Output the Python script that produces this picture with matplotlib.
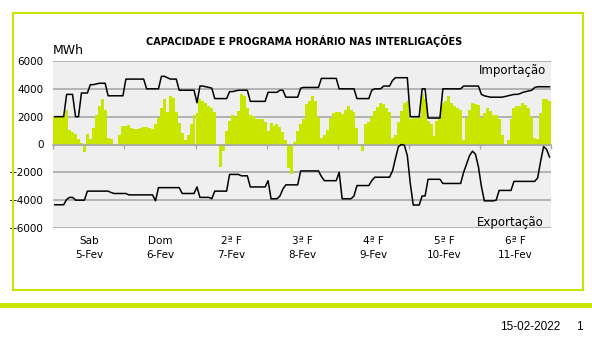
import matplotlib
matplotlib.use("Agg")
import matplotlib.pyplot as plt
import matplotlib.transforms as mtransforms
from matplotlib.patches import Rectangle
from matplotlib.lines import Line2D
import numpy as np

# hourly data, 7 days x 24 h (MWh)

programa = [
    # Sab 5-Fev
    2000, 2000, 2000, 2000, 2450, 1050, 900, 750, 400, 100, -550, 750,
    400, 1150, 2150, 2800, 3300, 2500, 450, 400, 0, -120, 700, 1350,
    # Dom 6-Fev
    1350, 1400, 1150, 1100, 1100, 1200, 1250, 1250, 1150, 1100, 1500, 1900,
    2650, 3250, 2300, 3500, 3350, 2300, 1550, 850, 350, 650, 1450, 2150,
    # 2a F 7-Fev
    2250, 3300, 3100, 2950, 2800, 2600, 2300, -100, -1600, -500, 1000, 1700,
    2100, 2000, 2400, 3600, 3450, 2600, 2100, 2050, 1850, 1800, 1850, 1600,
    # 3a F 8-Fev
    1000, 1550, 1300, 1450, 1250, 900, 300, -1700, -2100, 200, 950, 1450,
    1800, 2900, 3100, 3500, 3100, 2000, 500, 700, 1050, 1900, 2250, 2300,
    # 4a F 9-Fev
    2300, 2200, 2500, 2800, 2500, 2300, 1200, 50, -480, 1500, 1600, 2000,
    2400, 2700, 3000, 2900, 2600, 2300, 500, 650, 1600, 2400, 3000, 3100,
    # 5a F 10-Fev
    1800, 1900, 1900, 1900, 3600, 3300, 1700, 1450, 600, 1700, 1900, 3000,
    3100, 3450, 3000, 2750, 2600, 2500, 300, 1900, 2500, 3000, 2900, 2850,
    # 6a F 11-Fev
    1900, 2250, 2600, 2400, 2150, 2100, 1800, 700, 50, 300, 1800, 2600,
    2750, 2800, 3000, 2850, 2600, 2000, 500, 400, 2250, 3300, 3300, 3100,
]

importacao = [
    2000, 2000, 2000, 2000, 3600, 3600, 3600, 2000, 2000, 3700, 3700, 3700,
    4300, 4300, 4350, 4400, 4400, 4400, 3500, 3500, 3500, 3500, 3500, 3500,
    4700, 4700, 4700, 4700, 4700, 4700, 4700, 4000, 4000, 4000, 4000, 4000,
    4900, 4900, 4800, 4700, 4700, 4700, 3900, 3900, 3900, 3900, 3900, 3900,
    3000, 4200, 4200, 4150, 4100, 4050, 3300, 3300, 3300, 3300, 3300, 3800,
    3800, 3850, 3900, 3900, 3900, 3900, 3100, 3100, 3100, 3100, 3100, 3100,
    3750, 3750, 3750, 3750, 3900, 3900, 3400, 3400, 3400, 3400, 3400, 4050,
    4100, 4100, 4100, 4100, 4100, 4100, 4750, 4750, 4750, 4750, 4750, 4750,
    4000, 4000, 4000, 4000, 4000, 4000, 3300, 3300, 3300, 3300, 3300, 3900,
    4000, 4000, 4000, 4200, 4200, 4200, 4600, 4800, 4800, 4800, 4800, 4800,
    2000, 2000, 2000, 2000, 4000, 4000, 1900, 1900, 1900, 1900, 1900, 4000,
    4000, 4000, 4000, 4000, 4000, 4000, 4200, 4200, 4200, 4200, 4200, 4200,
    3600, 3500, 3450, 3400, 3400, 3400, 3400, 3400, 3450, 3500, 3550, 3600,
    3600, 3650, 3750, 3800, 3850, 3900, 4100, 4150, 4150, 4150, 4150, 4150,
]

exportacao = [
    -4330, -4330, -4330, -4330, -3950, -3800, -3800, -4000, -4000, -4000, -4000, -3350,
    -3350, -3350, -3350, -3350, -3350, -3350, -3350, -3450, -3520, -3520, -3520, -3520,
    -3520, -3620, -3620, -3620, -3620, -3620, -3620, -3620, -3620, -3620, -4050, -3100,
    -3100, -3100, -3100, -3100, -3100, -3100, -3100, -3520, -3520, -3520, -3520, -3520,
    -3050, -3800, -3800, -3800, -3800, -3900, -3350, -3350, -3350, -3350, -3350, -2150,
    -2150, -2150, -2150, -2250, -2250, -2250, -3050, -3050, -3050, -3050, -3050, -3050,
    -2600, -3900, -3900, -3900, -3700, -3200, -2900, -2900, -2900, -2900, -2900, -1900,
    -1900, -1900, -1900, -1900, -1900, -1900, -2300, -2600, -2600, -2600, -2600, -2600,
    -2000, -3900, -3900, -3900, -3900, -3700, -2950, -2950, -2950, -2950, -2950, -2600,
    -2350, -2350, -2350, -2350, -2350, -2350, -1900, -1000, -150, 0, -50, -800,
    -2800, -4350, -4350, -4350, -3700, -3700, -2500, -2500, -2500, -2500, -2500, -2800,
    -2800, -2800, -2800, -2800, -2800, -2800, -2000, -1400, -800, -480, -700, -1600,
    -3000, -4050, -4050, -4050, -4050, -4000, -3300, -3300, -3300, -3300, -3300, -2650,
    -2650, -2650, -2650, -2650, -2650, -2650, -2650, -2400, -1200, -150, -350, -900,
]

dias = ["Sab", "Dom", "2ª F", "3ª F", "4ª F", "5ª F", "6ª F"]
datas = ["5-Fev", "6-Fev", "7-Fev", "8-Fev", "9-Fev", "10-Fev", "11-Fev"]

verde = "#c8e600"
W, H = 592, 355

fig = plt.figure(figsize=(W / 100, H / 100), dpi=100)
ax = fig.add_axes([53.3 / W, 1 - 228 / H, (551 - 53.3) / W, (228 - 61) / H])

x = np.arange(len(programa)) + 0.5
ax.bar(x, programa, width=1.0, color=verde, linewidth=0, zorder=2)
ax.plot(x, importacao, color="black", lw=1.1, zorder=3)
ax.plot(x, exportacao, color="black", lw=1.1, zorder=3)

ax.set_facecolor("#efefef")
ax.set_xlim(0, 168)
ax.set_ylim(-6000, 6000)
ax.set_yticks(range(-6000, 6001, 2000))
ax.yaxis.grid(True, color="#a9a9a9", lw=1.2, zorder=1)
ax.set_axisbelow(True)
for s in ("left", "right", "top"):
    ax.spines[s].set_visible(False)
ax.spines["bottom"].set_position(("data", 0))
ax.spines["bottom"].set_color("#a9a9a9")
ax.spines["bottom"].set_linewidth(1.2)
ax.set_xticks(range(0, 169, 24))
ax.set_xticklabels([])
ax.tick_params(axis="x", length=3, color="#a9a9a9", width=1)
ax.tick_params(axis="y", length=0, labelsize=7.5, pad=7)

trans = mtransforms.blended_transform_factory(ax.transData, ax.transAxes)
for i, (d, dt) in enumerate(zip(dias, datas)):
    ax.text(24 * i + 12, -0.05, d + "\n" + dt, transform=trans, ha="center",
            va="top", fontsize=7.5, linespacing=1.4)

ax.text(0.99, 0.946, "Importação", transform=ax.transAxes, ha="right",
        va="center", fontsize=8.5)
ax.text(0.985, 0.03, "Exportação", transform=ax.transAxes, ha="right",
        va="center", fontsize=8.5)

fig.text(304 / W, 1 - 41 / H, "CAPACIDADE E PROGRAMA HORÁRIO NAS INTERLIGAÇÕES",
         ha="center", va="center", fontsize=7, fontweight="bold")
fig.text(53 / W, 1 - 51 / H, "MWh", ha="left", va="center", fontsize=9)

# frame and footer
fig.patches.append(Rectangle((13 / W, 1 - 290 / H), 570 / W, 277 / H,
                             transform=fig.transFigure, fill=False,
                             edgecolor=verde, lw=1.5))
fig.lines.append(Line2D([0, 1], [1 - 305 / H] * 2, transform=fig.transFigure,
                        color=verde, lw=3.5))
fig.text(560 / W, 1 - 327 / H, "15-02-2022", ha="right", va="center",
         fontsize=8.5, family="Liberation Sans")
fig.text(583 / W, 1 - 327 / H, "1", ha="right", va="center",
         fontsize=8.5, family="Liberation Sans")

fig.savefig("out.png", dpi=100)
